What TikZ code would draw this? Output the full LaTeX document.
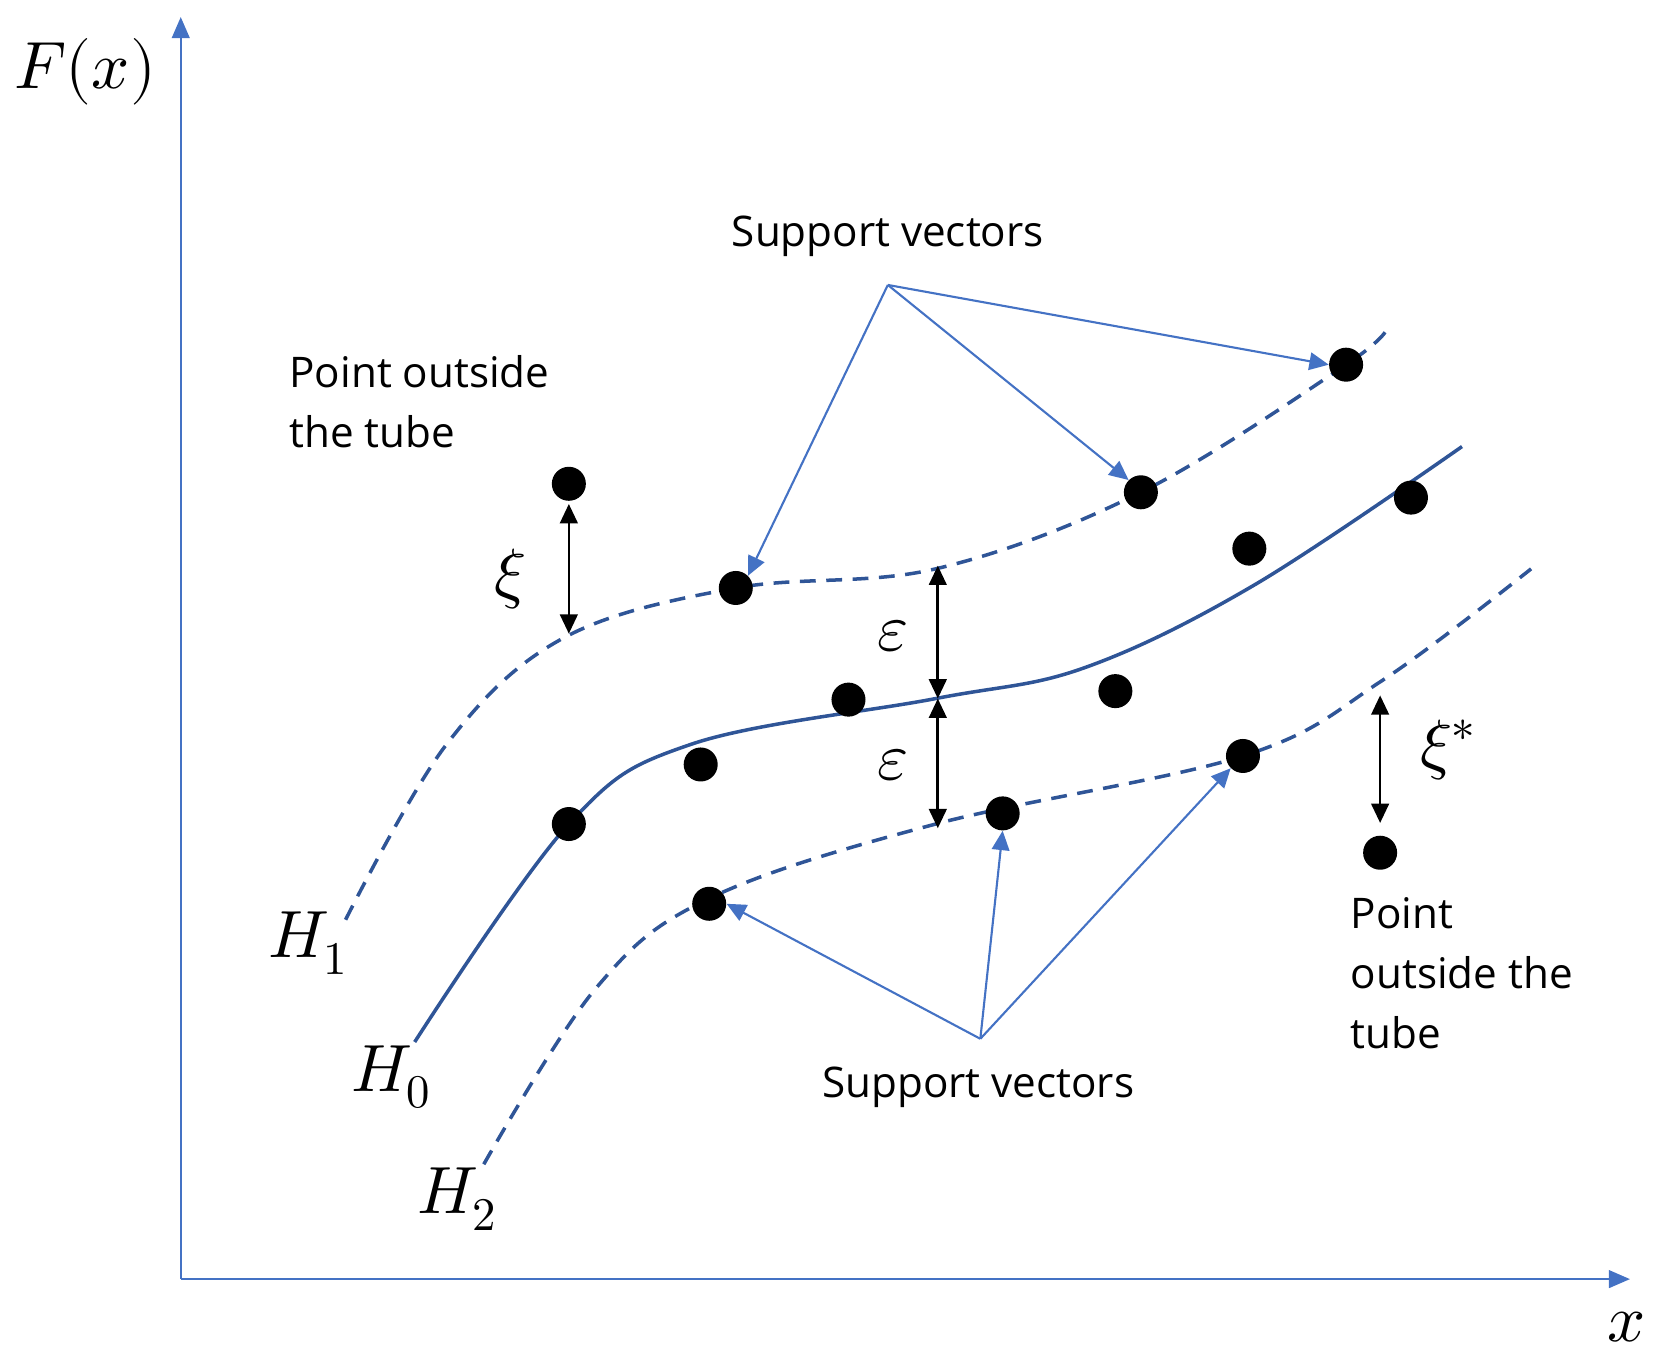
\documentclass[tikz,border=0pt]{standalone}
\usepackage{fontspec}
\setmainfont{Open Sans}
\usepackage{unicode-math}
\setmathfont{Latin Modern Math}
\usetikzlibrary{arrows.meta}
\definecolor{ax}{RGB}{68,114,196}
\definecolor{hc}{RGB}{47,85,151}
\begin{document}
\begin{tikzpicture}[x=0.02126cm,y=-0.02126cm,
 dot/.style={circle,fill=black,inner sep=0pt,minimum size=0.68cm},
 bl/.style={ax,line width=1.2pt,-{Triangle[length=11pt,width=10pt]}},
 dbl/.style={black,line width=1.5pt,{Triangle[length=11pt,width=10pt]}-{Triangle[length=11pt,width=10pt]}},
 curve/.style={hc,line width=2pt},
 lab/.style={font=\fontsize{24}{34}\selectfont,align=left},
 m/.style={font=\fontsize{38}{44}\selectfont}]
\useasboundingbox (0,0) rectangle (1565,1290);
\coordinate (O) at (170,1203);
\coordinate (Y) at (170,16);
\coordinate (X) at (1533,1203);
\draw[ax,line width=1.4pt,-{Triangle[length=12pt,width=10pt]}] (O)--(Y);
\draw[ax,line width=1.4pt,-{Triangle[length=12pt,width=10pt]}] (O)--(X);
\node[m] (F) at (80,68) {$F(x)$};
\node[m] (xl) at (1530,1248) {$x$};
% curves
\draw[curve] plot[smooth,tension=0.6] coordinates{(390,980)(535,775)(650,700)(880,657)(1020,628)(1180,550)(1375,420)};
\draw[curve,dashed,dash pattern=on 9pt off 6pt] plot[smooth,tension=0.6] coordinates{(325,865)(420,700)(530,600)(692,553)(880,535)(1073,463)(1266,343)(1305,308)};
\draw[curve,dashed,dash pattern=on 9pt off 6pt] plot[smooth,tension=0.6] coordinates{(455,1095)(560,930)(667,845)(880,775)(1169,711)(1300,640)(1440,535)};
% dots
\node[dot] (p1) at (535,455) {};
\node[dot] (s1) at (692,553) {};
\node[dot] (s2) at (1073,463) {};
\node[dot] (s3) at (1266,343) {};
\node[dot] (p2) at (1175,516) {};
\node[dot] (p3) at (1327,468) {};
\node[dot] (p4) at (798,658) {};
\node[dot] (p5) at (1049,650) {};
\node[dot] (p6) at (659,719) {};
\node[dot] (p7) at (535,775) {};
\node[dot] (s4) at (943,765) {};
\node[dot] (s5) at (1169,711) {};
\node[dot] (s6) at (667,850) {};
\node[dot] (p8) at (1298,802) {};
% double arrows
\coordinate (a1) at (535,474); \coordinate (a2) at (535,596);
\coordinate (e1) at (882,532); \coordinate (e2) at (882,657);
\coordinate (e3) at (882,779);
\coordinate (c1) at (1298,654); \coordinate (c2) at (1298,774);
\draw[dbl] (a1)--(a2);
\draw[dbl] (e1)--(e2);
\draw[dbl] (e2)--(e3);
\draw[dbl] (c1)--(c2);
\node[m] (xi) at (480,545) {$\xi$};
\node[m] (ep1) at (840,598) {$\varepsilon$};
\node[m] (ep2) at (840,720) {$\varepsilon$};
\node[m] (xis) at (1362,705) {$\xi^{*}$};
\node[m] (H1) at (290,887) {$H_1$};
\node[m] (H0) at (368,1013) {$H_0$};
\node[m] (H2) at (430,1128) {$H_2$};
% support vector labels
\node[lab] (sv1) at (835,222) {Support vectors};
\node[lab] (sv2) at (920,1023) {Support vectors};
\coordinate (t1) at (835,268);
\coordinate (t2) at (922,977);
\draw[bl] (t1)--(s1.north east);
\draw[bl] (t1)--(s2.north west);
\draw[bl] (t1)--(s3.west);
\draw[bl] (t2)--(s6.east);
\draw[bl] (t2)--(s4.south);
\draw[bl] (t2)--(s5.south west);
\node[lab,anchor=north west,inner sep=0pt] (po1) at (272,334) {Point outside\\the tube};
\node[lab,anchor=north west,inner sep=0pt] (po2) at (1270,844) {Point\\outside the\\tube};
\end{tikzpicture}
\end{document}
